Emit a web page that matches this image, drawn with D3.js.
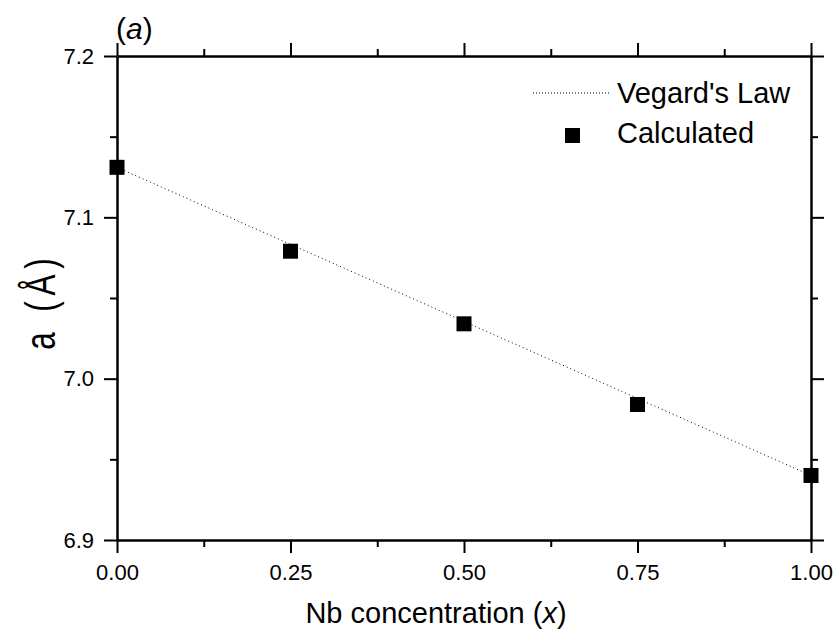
<!DOCTYPE html>
<html>
<head>
<meta charset="utf-8">
<script src="https://cdn.jsdelivr.net/npm/d3@7"></script>
<style>
  body { margin: 0; background: #fff; }
  text { font-family: "Liberation Sans", Arial, sans-serif; fill: #000; }
</style>
</head>
<body>
<svg></svg>
<script>
const width = 839;
const height = 637;
const margin = {left: 117, right: 28, top: 56, bottom: 97};

// data
const conc = [0, 0.25, 0.5, 0.75, 1.0];
const latticeA = [7.131, 7.079, 7.034, 6.984, 6.940];
const vegardX = [0, 1];
const vegardY = [7.131, 6.940];
const xTicks = [0, 0.25, 0.5, 0.75, 1.0];
const xMinor = [0.125, 0.375, 0.625, 0.875];
const yTicks = [6.9, 7.0, 7.1, 7.2];
const yMinor = [6.95, 7.05, 7.15];

let svg = d3.select("svg").attr("width", width).attr("height", height);

let x = d3.scaleLinear().domain([0, 1]).range([margin.left, width - margin.right]);
let y = d3.scaleLinear().domain([6.9, 7.2]).range([height - margin.bottom, margin.top]);

const major = 13, minor = 7;

function axisStyle(g) {
    g.attr("font-size", null).attr("font-family", null);
    g.select(".domain").attr("stroke", "#000").attr("stroke-width", 2.5);
    g.selectAll(".tick line").attr("stroke", "#000").attr("stroke-width", 2);
    g.selectAll("text").style("font-size", "22px").attr("fill", "#000");
}

// bottom
let xb = svg.append("g").attr("transform", `translate(0,${y(6.9)})`);
xb.call(d3.axisBottom(x).tickValues(xTicks).tickFormat(d3.format(".2f")).tickSizeInner(major).tickSizeOuter(0).tickPadding(11));
xb.append("g").call(d3.axisBottom(x).tickValues(xMinor).tickFormat("").tickSize(minor)).select(".domain").remove();
axisStyle(xb);
// top
let xt = svg.append("g").attr("transform", `translate(0,${y(7.2)})`);
xt.call(d3.axisTop(x).tickValues(xTicks).tickFormat("").tickSizeInner(major).tickSizeOuter(0));
xt.append("g").call(d3.axisTop(x).tickValues(xMinor).tickFormat("").tickSize(minor)).select(".domain").remove();
axisStyle(xt);
// left
let yl = svg.append("g").attr("transform", `translate(${x(0)},0)`);
yl.call(d3.axisLeft(y).tickValues(yTicks).tickFormat(d3.format(".1f")).tickSizeInner(major).tickSizeOuter(0).tickPadding(10));
yl.append("g").call(d3.axisLeft(y).tickValues(yMinor).tickFormat("").tickSize(minor)).select(".domain").remove();
axisStyle(yl);
// right
let yr = svg.append("g").attr("transform", `translate(${x(1)},0)`);
yr.call(d3.axisRight(y).tickValues(yTicks).tickFormat("").tickSizeInner(major).tickSizeOuter(0));
yr.append("g").call(d3.axisRight(y).tickValues(yMinor).tickFormat("").tickSize(minor)).select(".domain").remove();
axisStyle(yr);

// Vegard's law line
let line = d3.line().x(d => x(d[0])).y(d => y(d[1]));
svg.append("path")
    .datum(vegardX.map((v, i) => [v, vegardY[i]]))
    .attr("d", line)
    .attr("fill", "none")
    .attr("stroke", "#000")
    .attr("stroke-width", 1)
    .attr("stroke-dasharray", "1,3");

// calculated points
const ms = 15;
svg.selectAll("rect.pt")
    .data(conc.map((c, i) => [c, latticeA[i]]))
    .enter().append("rect")
    .attr("class", "pt")
    .attr("x", d => x(d[0]) - ms / 2)
    .attr("y", d => y(d[1]) - ms / 2)
    .attr("width", ms).attr("height", ms)
    .attr("fill", "#000");

// legend
let lg = svg.append("g");
lg.append("line").attr("x1", 533).attr("x2", 610).attr("y1", 93).attr("y2", 93)
    .attr("stroke", "#000").attr("stroke-width", 1).attr("stroke-dasharray", "1,2");
lg.append("text").attr("x", 617).attr("y", 103).style("font-size", "29px").text("Vegard's Law");
lg.append("rect").attr("x", 565).attr("y", 128).attr("width", ms).attr("height", ms).attr("fill", "#000");
lg.append("text").attr("x", 617).attr("y", 143).style("font-size", "29px").text("Calculated");

// axis titles
svg.append("text")
    .attr("x", 436).attr("y", 623)
    .attr("text-anchor", "middle").style("font-size", "29px")
    .html("Nb concentration (<tspan font-style='italic'>x</tspan>)");
svg.append("text")
    .attr("transform", "translate(55,304) rotate(-90) scale(0.75,1)")
    .attr("text-anchor", "middle").style("font-size", "42px")
    .attr("textLength", 122).attr("lengthAdjust", "spacing")
    .text("a (Å)");

// panel label
svg.append("text").attr("x", 116).attr("y", 39).style("font-size", "30px")
    .html("(<tspan font-style='italic'>a</tspan>)");
</script>
</body>
</html>
